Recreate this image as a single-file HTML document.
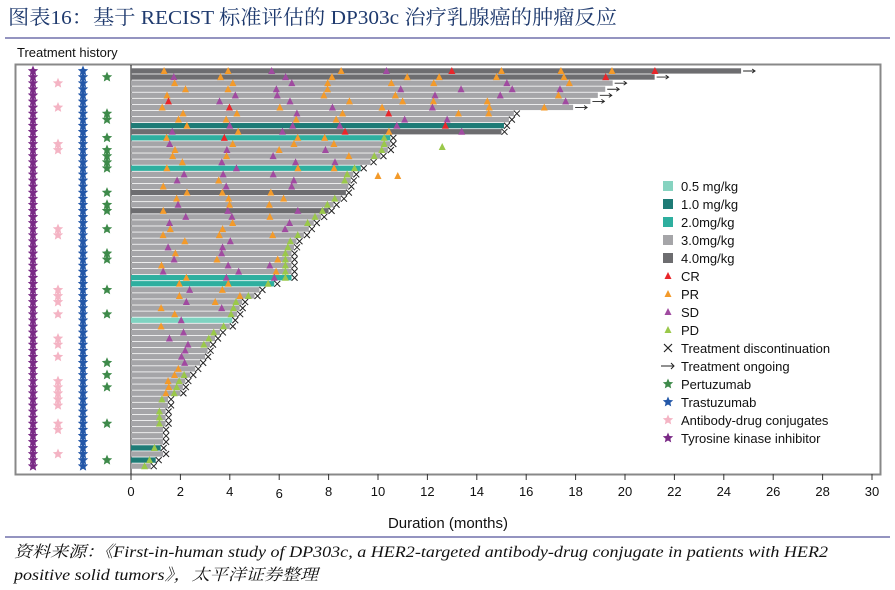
<!DOCTYPE html>
<html><head><meta charset="utf-8"><style>
body{margin:0;width:895px;height:590px;background:#fff;overflow:hidden;font-family:"Liberation Sans",sans-serif}
</style></head><body>
<svg id="s" width="895" height="590" xmlns="http://www.w3.org/2000/svg" style="position:absolute;left:0;top:0">
<text x="8" y="24" font-family="Liberation Serif,'Noto Serif CJK SC',serif" font-size="20" fill="#1f3a6e" textLength="609" lengthAdjust="spacingAndGlyphs">图表16：基于 RECIST 标准评估的 DP303c 治疗乳腺癌的肿瘤反应</text>
<line x1="5" y1="38" x2="890" y2="38" stroke="#55559a" stroke-width="1.2"/>
<text x="17" y="57" font-size="13" fill="#111">Treatment history</text>
<rect x="15.5" y="64.5" width="865" height="410" fill="#fff" stroke="#888" stroke-width="2"/>
<line x1="131" y1="65" x2="131" y2="474" stroke="#111" stroke-width="1"/>
<g id="bars"></g>
<g id="ax" font-size="13" fill="#111" text-anchor="middle"></g>
<text x="448" y="528" font-size="15" text-anchor="middle" fill="#111">Duration (months)</text>
<line x1="5" y1="537" x2="890" y2="537" stroke="#55559a" stroke-width="1.2"/>
<text x="14" y="557" font-family="Liberation Serif,'Noto Serif CJK SC',serif" font-style="italic" font-size="16" fill="#111" textLength="814" lengthAdjust="spacingAndGlyphs">资料来源：《First-in-human study of DP303c, a HER2-targeted antibody-drug conjugate in patients with HER2</text>
<text x="14" y="580" font-family="Liberation Serif,'Noto Serif CJK SC',serif" font-style="italic" font-size="16" fill="#111" textLength="304" lengthAdjust="spacingAndGlyphs">positive solid tumors》，太平洋证券整理</text>
<g id="leg" font-size="13" fill="#111"></g>
</svg>
<script>
var NS="http://www.w3.org/2000/svg";
function el(p,t,a,txt){var e=document.createElementNS(NS,t);for(var k in a)e.setAttribute(k,a[k]);if(txt!=null)e.textContent=txt;p.appendChild(e);return e;}
var X0=131,SC=24.7,Y0=71,P=6.08;
function mx(m){return X0+m*SC;}
var ends=[24.7,21.2,19.5,19.2,18.9,18.6,17.9,15.5,15.3,15.1,15.0,10.5,10.5,10.4,10.1,9.7,9.3,9.0,8.9,8.8,8.7,8.5,8.2,8.0,7.7,7.4,7.2,7.0,6.7,6.6,6.5,6.5,6.5,6.5,6.5,5.8,5.2,5.0,4.5,4.4,4.3,4.1,4.0,3.6,3.4,3.2,3.1,3.0,2.8,2.6,2.4,2.2,2.1,2.0,1.5,1.5,1.4,1.4,1.4,1.3,1.3,1.3,1.2,1.3,1.0,0.8];
var col={};col[0]=col[1]=col[10]=col[20]=col[23]="#6d6d70";col[9]=col[62]=col[64]="#1e7b76";col[11]=col[16]=col[34]=col[35]="#2eaf9f";col[41]="#7fd3c1";
var g=document.getElementById("bars");
var seed=7;function rnd(){seed=(seed*9301+49297)%233280;return seed/233280;}
function tri(x,y,c){el(g,"polygon",{points:(x-3.5)+","+(y+3)+" "+(x+3.5)+","+(y+3)+" "+x+","+(y-4),fill:c});}
function star(x,y,c,r){var p=[];for(var i=0;i<10;i++){var a=-Math.PI/2+i*Math.PI/5,rr=i%2?r*0.45:r;p.push((x+rr*Math.cos(a)).toFixed(1)+","+(y+rr*Math.sin(a)).toFixed(1));}el(g,"polygon",{points:p.join(" "),fill:c});}
for(var i=0;i<ends.length;i++){
 var y=Y0+i*P,e=ends[i];
 el(g,"rect",{x:X0,y:y-2.7,width:e*SC,height:5.3,fill:col[i]||"#a5a5a8"});
}
for(var i=0;i<ends.length;i++){
 var y=Y0+i*P,e=ends[i];
 star(33,y,"#7a2a86",5.5);
 if(rnd()<0.25)star(58,y,"#f4b4c4",5.5);
 star(83,y,"#2357a8",5.5);
 if(rnd()<0.3)star(107,y,"#3e8a4a",5.5);
 var n=Math.max(1,Math.round(e/2.2));
 for(var k=0;k<n;k++){
  var m=1.2+k*2.2+rnd()*1.2; if(m>e-0.5)break;
  var r=rnd(),c;
  if(i<12) c=r<0.08?"#e8262a":(r<0.55?"#f39a2a":"#a04aa0");
  else c=r<0.5?"#f39a2a":"#a04aa0";
  tri(mx(m),y,c);
 }
 if(i>=7){
  if(i>=11&&rnd()<0.75)tri(mx(e-0.25),y,"#9ac84a");
  var xx=mx(e)+3;
  el(g,"path",{d:"M"+(xx-3)+","+(y-3)+"L"+(xx+3)+","+(y+3)+"M"+(xx-3)+","+(y+3)+"L"+(xx+3)+","+(y-3),stroke:"#222","stroke-width":1,fill:"none"});
 } else {
  var xa=mx(e)+2;
  el(g,"path",{d:"M"+xa+","+y+"h12M"+(xa+9)+","+(y-2)+"l3,2l-3,2",stroke:"#222","stroke-width":0.9,fill:"none"});
 }
}
tri(mx(12.6),147,"#9ac84a");tri(mx(10),176,"#f39a2a");tri(mx(10.8),176,"#f39a2a");
var ax=document.getElementById("ax");
for(var t=0;t<=30;t+=2){var x=mx(t);el(ax,"line",{x1:x,y1:474,x2:x,y2:480,stroke:"#333"});el(ax,"text",{x:x,y:t==6?498:496},String(t));}
var L=document.getElementById("leg");
var items=[["s","#86d3c0","0.5 mg/kg"],["s","#1e7b76","1.0 mg/kg"],["s","#2eaf9f","2.0mg/kg"],["s","#a5a5a8","3.0mg/kg"],["s","#6d6d70","4.0mg/kg"],["t","#e8262a","CR"],["t","#f39a2a","PR"],["t","#a04aa0","SD"],["t","#9ac84a","PD"],["x","#222","Treatment discontinuation"],["a","#222","Treatment ongoing"],["p","#3e8a4a","Pertuzumab"],["p","#2357a8","Trastuzumab"],["p","#f4b4c4","Antibody-drug conjugates"],["p","#7a2a86","Tyrosine kinase inhibitor"]];
g=L;
items.forEach(function(it,j){var y=186+j*18,x=668;
 if(it[0]=="s")el(L,"rect",{x:x-5,y:y-5,width:10,height:10,fill:it[1]});
 if(it[0]=="t")tri(x,y,it[1]);
 if(it[0]=="x")el(L,"path",{d:"M"+(x-4)+","+(y-4)+"L"+(x+4)+","+(y+4)+"M"+(x-4)+","+(y+4)+"L"+(x+4)+","+(y-4),stroke:"#222","stroke-width":1.2});
 if(it[0]=="a")el(L,"path",{d:"M"+(x-7)+","+y+"h13M"+(x+3)+","+(y-3)+"l3,3l-3,3",stroke:"#222","stroke-width":1,fill:"none"});
 if(it[0]=="p")star(x,y,it[1],5.5);
 el(L,"text",{x:681,y:y+5},it[2]);
});
</script>
</body></html>
